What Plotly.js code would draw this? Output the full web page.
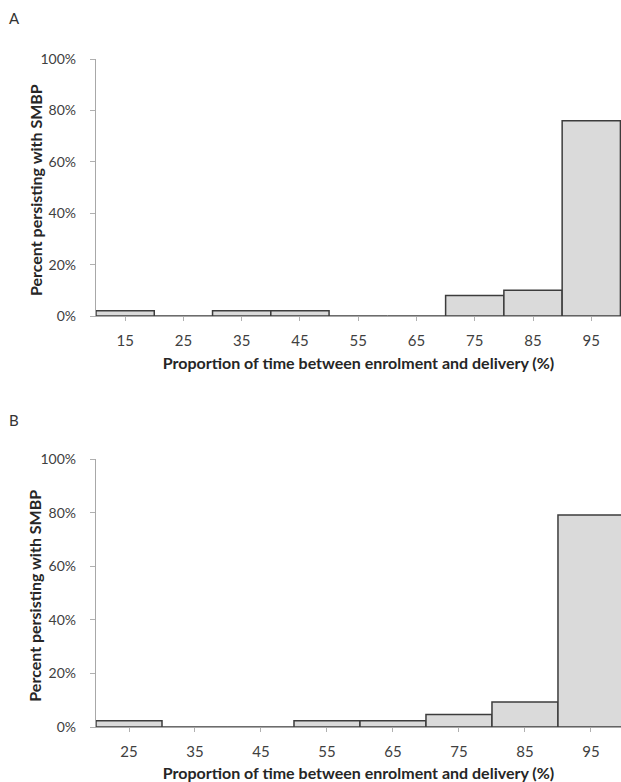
<!DOCTYPE html>
<html>
<head>
<meta charset="utf-8">
<script src="https://cdn.plot.ly/plotly-3.0.1.min.js"></script>
<style>html,body{margin:0;padding:0;background:#fff;}#chart{width:621px;height:782px;}</style>
</head>
<body>
<div id="chart"></div>
<script>
// Panel A: bins (centre of 10-point bins) and percent persisting
const binsA = [15, 25, 35, 45, 55, 65, 75, 85, 95];
const pctA  = [2, 0, 2, 2, 0, 0, 8, 10, 76];
// Panel B
const binsB = [25, 35, 45, 55, 65, 75, 85, 95];
const pctB  = [2.33, 0, 0, 2.33, 2.33, 4.65, 9.3, 79.07];
const yTickVals = [0, 20, 40, 60, 80, 100];
const yTickText = ['0%', '20%', '40%', '60%', '80%', '100%'];
const xTitle = 'Proportion of time between enrolment and delivery (%)';
const yTitle = 'Percent persisting with SMBP';

const FONT = 'Lato, "Open Sans", sans-serif';
const barStyle = {color: '#dadada', line: {color: '#3c3c3c', width: 1.5}};

const traces = [
  {type: 'bar', x: binsA, y: pctA, width: 10, marker: barStyle, xaxis: 'x', yaxis: 'y', hoverinfo: 'x+y'},
  {type: 'bar', x: binsB, y: pctB, width: 10, marker: barStyle, xaxis: 'x2', yaxis: 'y2', hoverinfo: 'x+y'}
];

const H = 782, PW = 525;
function xAxis(vals, range, anchor) {
  return {
    range: range, anchor: anchor, domain: [0, 1],
    tickvals: vals, ticktext: vals.map(String),
    ticks: 'outside', ticklen: 4, tickcolor: '#b0b0b0', tickwidth: 1,
    showline: true, linecolor: '#a8a8a8', linewidth: 1.2,
    showgrid: false, zeroline: false,
    ticklabelstandoff: 7,
    tickfont: {family: FONT, size: 15, color: '#404040'},
    title: {text: xTitle, font: {family: FONT, size: 16, color: '#262626', weight: 'bold'}, standoff: 9},
    fixedrange: true
  };
}
function yAxis(domain, anchor) {
  return {
    range: [0, 100], domain: domain, anchor: anchor,
    tickvals: yTickVals, ticktext: yTickText,
    ticks: 'outside', ticklen: 5, tickcolor: '#b0b0b0', tickwidth: 1,
    showline: true, linecolor: '#a8a8a8', linewidth: 1.2,
    showgrid: false, zeroline: false,
    ticklabelstandoff: 11,
    tickfont: {family: FONT, size: 14, color: '#404040'},
    fixedrange: true
  };
}
function yTitleAnn(yref) {
  return {text: yTitle, xref: 'paper', yref: yref, x: (35 - 96) / PW, y: 0.49,
          xanchor: 'center', yanchor: 'middle', textangle: -90, showarrow: false,
          font: {family: FONT, size: 16, color: '#262626', weight: 'bold'}};
}

const layout = {
  width: 621, height: H,
  margin: {l: 96, r: 0, t: 0, b: 0},
  paper_bgcolor: '#ffffff', plot_bgcolor: '#ffffff',
  showlegend: false, bargap: 0,
  font: {family: FONT, color: '#404040'},
  xaxis: xAxis(binsA, [10, 100.1], 'y'),
  yaxis: yAxis([1 - 316 / H, 1 - 59 / H], 'x'),
  xaxis2: xAxis(binsB, [20, 99.55], 'y2'),
  yaxis2: yAxis([1 - 727 / H, 1 - 459 / H], 'x2'),
  annotations: [
    {text: 'A', xref: 'paper', yref: 'paper', x: -96 / PW, y: 1 - 18 / H, xanchor: 'left', yanchor: 'middle', showarrow: false,
     font: {family: FONT, size: 15, color: '#333'}, xshift: 7},
    {text: 'B', xref: 'paper', yref: 'paper', x: -96 / PW, y: 1 - 420 / H, xanchor: 'left', yanchor: 'middle', showarrow: false,
     font: {family: FONT, size: 15, color: '#333'}, xshift: 7},
    yTitleAnn('y domain'),
    yTitleAnn('y2 domain')
  ]
};

Plotly.newPlot('chart', traces, layout, {displayModeBar: false, staticPlot: true});
</script>
</body>
</html>
